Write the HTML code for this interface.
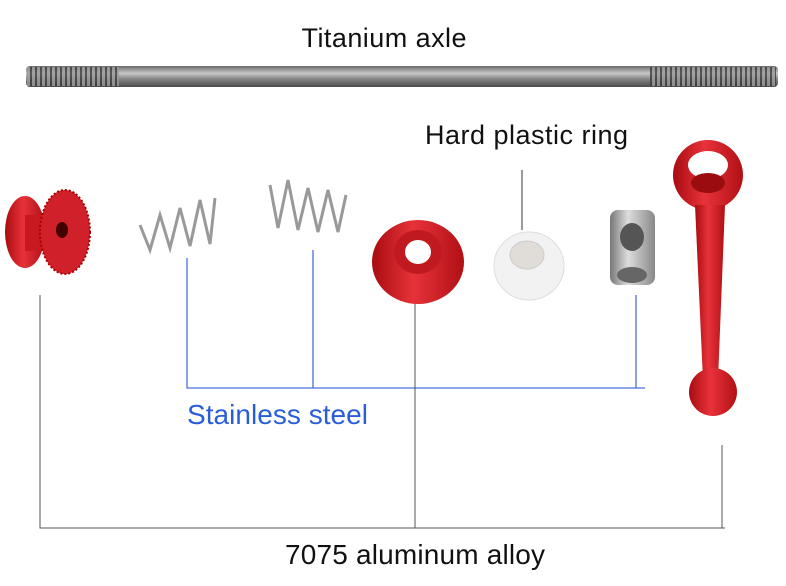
<!DOCTYPE html>
<html><head><style>
body{margin:0;background:#fff;width:786px;height:581px;overflow:hidden;font-family:"Liberation Sans",sans-serif}
</style></head><body>
<svg width="786" height="581" viewBox="0 0 786 581" xmlns="http://www.w3.org/2000/svg">
<defs>
<linearGradient id="rod" x1="0" y1="0" x2="0" y2="1"><stop offset="0" stop-color="#6a6a6a"/><stop offset="0.35" stop-color="#c8c8c8"/><stop offset="0.6" stop-color="#8a8a8a"/><stop offset="1" stop-color="#4a4a4a"/></linearGradient>
<linearGradient id="red" x1="0" y1="0" x2="1" y2="0"><stop offset="0" stop-color="#a80c10"/><stop offset="0.45" stop-color="#e8323a"/><stop offset="1" stop-color="#b01015"/></linearGradient>
<linearGradient id="steel" x1="0" y1="0" x2="1" y2="0"><stop offset="0" stop-color="#777"/><stop offset="0.4" stop-color="#ddd"/><stop offset="1" stop-color="#888"/></linearGradient>
<pattern id="thr" width="5" height="20" patternUnits="userSpaceOnUse"><rect width="5" height="20" fill="#9a9a9a"/><rect width="2" height="20" fill="#3c3c3c"/></pattern>
</defs>
<text x="384" y="47" font-size="27" text-anchor="middle" fill="#111" textLength="165">Titanium axle</text>
<rect x="26" y="66" width="752" height="21" rx="4" fill="url(#rod)"/>
<rect x="27" y="67" width="92" height="19" fill="url(#thr)" opacity="0.8"/>
<rect x="650" y="67" width="126" height="19" fill="url(#thr)" opacity="0.8"/>
<text x="425" y="144" font-size="27" fill="#111" textLength="203">Hard plastic ring</text>
<line x1="522" y1="170" x2="522" y2="230" stroke="#333" stroke-width="1"/>
<g stroke="#4a6fe0" stroke-width="1.3" fill="none">
<polyline points="187,258 187,388 645,388"/>
<line x1="313" y1="250" x2="313" y2="388"/>
<line x1="636" y1="295" x2="636" y2="388"/>
</g>
<text x="187" y="424" font-size="28" fill="#2a5ed8" textLength="181">Stainless steel</text>
<g stroke="#555" stroke-width="1" fill="none">
<polyline points="40,295 40,528 725,528"/>
<line x1="415" y1="300" x2="415" y2="528"/>
<line x1="722" y1="445" x2="722" y2="528"/>
</g>
<text x="285" y="564" font-size="28" fill="#111" textLength="260">7075 aluminum alloy</text>
<ellipse cx="25" cy="232" rx="20" ry="36" fill="url(#red)"/>
<rect x="25" y="215" width="30" height="36" fill="#c81820"/>
<ellipse cx="65" cy="232" rx="25" ry="42" fill="#d0202a" stroke="#a00" stroke-width="2" stroke-dasharray="2 2"/>
<ellipse cx="62" cy="230" rx="6" ry="8" fill="#400"/>
<g stroke="#999" stroke-width="3" fill="none">
<path d="M140,225 L150,250 L160,215 L170,248 L180,208 L190,246 L200,200 L210,244 L215,198"/>
<path d="M270,185 L278,228 L288,180 L298,230 L308,188 L318,232 L328,190 L338,232 L346,195"/>
</g>
<ellipse cx="418" cy="262" rx="46" ry="42" fill="url(#red)"/>
<ellipse cx="418" cy="252" rx="24" ry="22" fill="#c01a20"/>
<ellipse cx="418" cy="252" rx="13" ry="12" fill="#fff"/>
<ellipse cx="529" cy="266" rx="35" ry="34" fill="#f2f2f2" stroke="#ddd"/>
<ellipse cx="527" cy="255" rx="17" ry="14" fill="#e0ddd8" stroke="#ccc"/>
<rect x="610" y="210" width="45" height="75" rx="8" fill="url(#steel)"/>
<ellipse cx="632" cy="237" rx="12" ry="14" fill="#555"/>
<ellipse cx="632" cy="275" rx="15" ry="8" fill="#666"/>
<ellipse cx="708" cy="175" rx="35" ry="35" fill="url(#red)"/>
<ellipse cx="708" cy="165" rx="20" ry="14" fill="#fff"/>
<ellipse cx="708" cy="183" rx="17" ry="10" fill="#9a0c10"/>
<path d="M695,205 L725,205 L718,380 L703,380 Z" fill="url(#red)"/>
<circle cx="713" cy="392" r="24" fill="url(#red)"/>
</svg>
</body></html>
